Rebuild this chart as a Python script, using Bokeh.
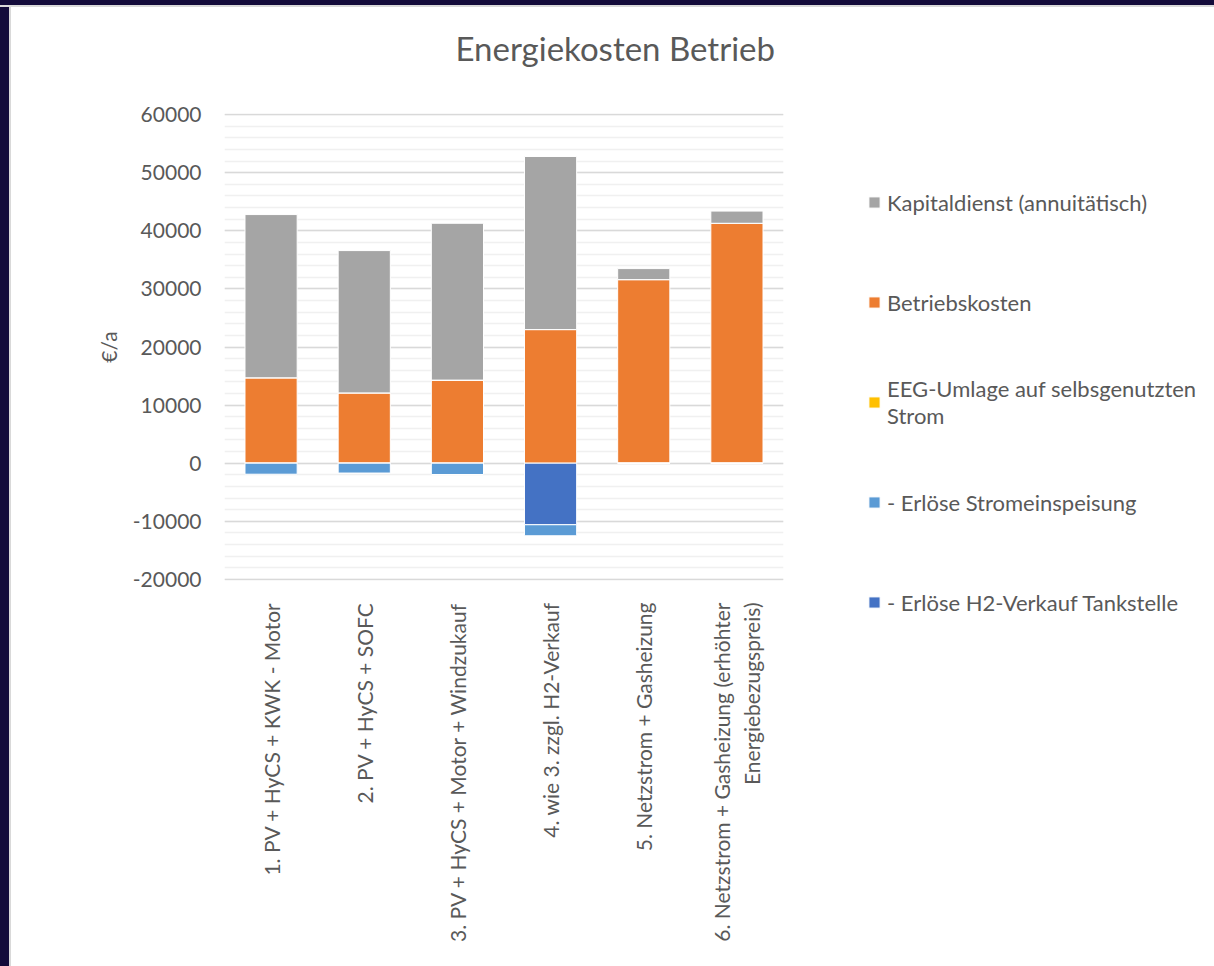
from math import pi
from bokeh.plotting import figure
from bokeh.models import (ColumnDataSource, FactorRange, Range1d, FixedTicker,
                          Legend, LegendItem)
from bokeh.embed import file_html
from bokeh.resources import INLINE

# ---- data ----
categories = [
    "1. PV + HyCS + KWK - Motor",
    "2. PV + HyCS + SOFC",
    "3. PV + HyCS + Motor + Windzukauf",
    "4. wie 3. zzgl. H2-Verkauf",
    "5. Netzstrom + Gasheizung",
    "6. Netzstrom + Gasheizung (erhöhter\nEnergiebezugspreis)",
]
kapitaldienst = [28100, 24500, 27000, 29800, 1900, 2100]
betriebskosten = [14700, 12100, 14300, 23000, 31600, 41300]
eeg_umlage = [0, 0, 0, 0, 0, 0]
erloese_strom = [-1900, -1700, -1950, -1900, 0, 0]
erloese_h2 = [0, 0, 0, -10600, 0, 0]

y_ticks = [-20000, -10000, 0, 10000, 20000, 30000, 40000, 50000, 60000]
y_minor = list(range(-20000, 60001, 2000))

series_names = ["Kapitaldienst (annuitätisch)", "Betriebskosten",
                "EEG-Umlage auf selbsgenutzten\nStrom",
                "- Erlöse Stromeinspeisung", "- Erlöse H2-Verkauf Tankstelle"]

GRAY, ORANGE, YELLOW, LBLUE, DBLUE = "#A5A5A5", "#ED7D31", "#FFC000", "#5B9BD5", "#4472C4"
TXT = "#595959"
FONT = "Lato"

src = ColumnDataSource(dict(cats=categories, kapital=kapitaldienst, betrieb=betriebskosten,
                            eeg=eeg_umlage, strom=erloese_strom, h2=erloese_h2))

p = figure(x_range=FactorRange(factors=categories),
           y_range=Range1d(y_ticks[0] - 200, y_ticks[-1] + 200),
           frame_width=559, frame_height=467, output_backend="svg", toolbar_location=None,
           min_border_left=215, min_border_right=0, min_border_top=0, min_border_bottom=386)
p.margin = (-21, 0, 0, 9)
p.border_fill_color = "white"
p.background_fill_color = "white"
p.outline_line_color = None

pos = p.vbar_stack(["betrieb", "eeg", "kapital"], x="cats", width=0.56, source=src,
                   color=[ORANGE, YELLOW, GRAY], line_color="white", line_width=1)
neg = p.vbar_stack(["h2", "strom"], x="cats", width=0.56, source=src,
                   color=[DBLUE, LBLUE], line_color="white", line_width=1)

# title
p.title.text = "Energiekosten Betrieb"
p.title.align = "left"
p.title.offset = 231
p.title.standoff = 92
p.title.text_font = FONT
p.title.text_font_size = "33px"
p.title.text_font_style = "normal"
p.title.text_color = TXT

# y axis
ya = p.yaxis[0]
ya.ticker = FixedTicker(ticks=y_ticks, minor_ticks=y_minor)
ya.major_label_overrides = {t: str(t) for t in y_ticks}
ya.axis_line_color = None
ya.major_tick_line_color = None
ya.minor_tick_line_color = None
ya.major_label_standoff = 17
ya.major_label_text_font = FONT
ya.major_label_text_font_size = "21px"
ya.major_label_text_color = TXT
ya.axis_label = "€/a"
ya.axis_label_text_font = FONT
ya.axis_label_text_font_size = "21px"
ya.axis_label_text_font_style = "normal"
ya.axis_label_text_color = TXT
ya.axis_label_standoff = 9

# x axis
xa = p.xaxis[0]
xa.axis_line_color = None
xa.major_tick_line_color = None
xa.minor_tick_line_color = None
xa.major_label_orientation = pi / 2
xa.major_label_standoff = 16
xa.major_label_text_font = FONT
xa.major_label_text_font_size = "21px"
xa.major_label_text_color = TXT

# grids
p.xgrid.grid_line_color = None
p.ygrid.grid_line_color = "#D9D9D9"
p.ygrid.grid_line_width = 1.5
p.ygrid.minor_grid_line_color = "#F0F0F0"
p.ygrid.minor_grid_line_width = 1.5

# legend
items = [
    LegendItem(label=series_names[0], renderers=[pos[2]]),
    LegendItem(label=series_names[1], renderers=[pos[0]]),
    LegendItem(label=series_names[2], renderers=[pos[1]]),
    LegendItem(label=series_names[3], renderers=[neg[1]]),
    LegendItem(label=series_names[4], renderers=[neg[0]]),
]
legend = Legend(items=items, location=(84, -52), orientation="vertical",
                glyph_width=14, glyph_height=14, label_standoff=6, label_height=60,
                spacing=40, padding=0, margin=0, border_line_color=None,
                background_fill_alpha=0, label_text_font=FONT,
                label_text_font_size="22px", label_text_line_height=1.35,
                label_text_color=TXT)
p.add_layout(legend, "right")

css = ("<style>html,body{margin:0;background:#FFFFFF;overflow:hidden;}"
       "body::before{content:'';position:fixed;left:0;top:0;width:9px;height:100%;"
       "background:#130B3A;box-shadow:2px 0 0 #D9D9D9;z-index:10;}"
       "body::after{content:'';position:fixed;left:0;top:0;width:100%;height:5px;"
       "background:#130B3A;box-shadow:0 2px 0 #D9D9D9;z-index:11;}</style>")
html = file_html(p, INLINE, title="Energiekosten Betrieb")
html = html.replace("</head>", css + "</head>", 1)
open("out.html", "w").write(html)
